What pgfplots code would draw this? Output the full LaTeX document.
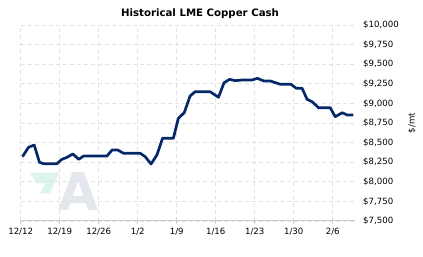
\documentclass[border=0pt]{standalone}
\usepackage{fontspec}
\setmainfont{DejaVu Sans}
\usepackage{pgfplots}
\pgfplotsset{compat=1.18}
\definecolor{navy}{RGB}{4,40,104}
\definecolor{gridc}{RGB}{226,226,226}
\definecolor{axc}{RGB}{205,205,205}
\definecolor{mint}{RGB}{220,244,233}
\definecolor{agray}{RGB}{228,231,237}
\begin{document}
\begin{tikzpicture}
\useasboundingbox (-20.7pt,-36pt) rectangle (402.3pt,221pt);
% watermark
\fill[mint] (9.3pt,48.3pt) -- (38.6pt,48.3pt) -- (29.3pt,27.7pt) -- (19.3pt,27.7pt) -- (25pt,37.7pt) -- (16pt,37.7pt) -- cycle;
\node[text=agray, inner sep=0pt] at (57.5pt,29.5pt) {\fontsize{52}{52}\selectfont\bfseries A};
\begin{axis}[
  scale only axis,
  width=334.3pt, height=196pt,
  xmin=0, xmax=60, ymin=7500, ymax=10000,
  scaled y ticks=false,
  axis x line=bottom,
  axis y line=right,
  x axis line style={axc, line width=1pt, -},
  y axis line style={draw=none},
  xtick={0,7,...,56},
  xticklabels={12/12,12/19,12/26,1/2,1/9,1/16,1/23,1/30,2/6},
  ytick={7500,7750,...,10000},
  yticklabels={{\$7,500},{\$7,750},{\$8,000},{\$8,250},{\$8,500},{\$8,750},{\$9,000},{\$9,250},{\$9,500},{\$9,750},{\$10,000}},
  tick label style={font=\fontsize{8.6}{10}\selectfont, text=black},
  yticklabel style={anchor=west, inner sep=0pt, xshift=5pt},
  xticklabel style={inner sep=0pt, yshift=-4pt},
  xtick style={draw=axc, line width=0.8pt},
  ytick style={draw=none},
  tick align=outside,
  major tick length=3pt,
  grid=major,
  major grid style={gridc, line width=0.8pt, dash pattern=on 4pt off 3pt},
  clip=false,
]
\addplot[navy, line width=2.7pt, line join=round] coordinates {
(0.32,8320) (1.4,8440) (2.42,8469) (3.37,8249) (4.09,8231) (6.5,8231)
(7.4,8287) (8.3,8312) (9.37,8355) (10.4,8287) (11.3,8329) (15.5,8329)
(16.4,8406) (17.4,8406) (18.45,8364) (21.45,8364) (22.35,8320) (23.4,8227)
(24.45,8342) (25.45,8555) (27.4,8555) (28.3,8810) (29.35,8881) (30.4,9094)
(31.3,9149) (34.0,9149) (35.5,9078) (36.5,9264) (37.5,9307) (38.5,9290)
(39.7,9298) (41.5,9298) (42.5,9320) (43.6,9286) (44.8,9286) (45.7,9264)
(46.6,9244) (48.5,9244) (49.45,9193) (50.5,9193) (51.4,9052) (52.3,9022)
(53.45,8945) (55.55,8945) (56.45,8830) (57.7,8881) (58.6,8852) (59.7,8852)
};
\end{axis}
\node[font=\fontsize{10.2}{12}\selectfont\bfseries] at (179.3pt,207.7pt) {Historical LME Copper Cash};
\node[rotate=90, font=\fontsize{8.6}{10}\selectfont] at (391.3pt,98pt) {\$/mt};
\end{tikzpicture}
\end{document}
